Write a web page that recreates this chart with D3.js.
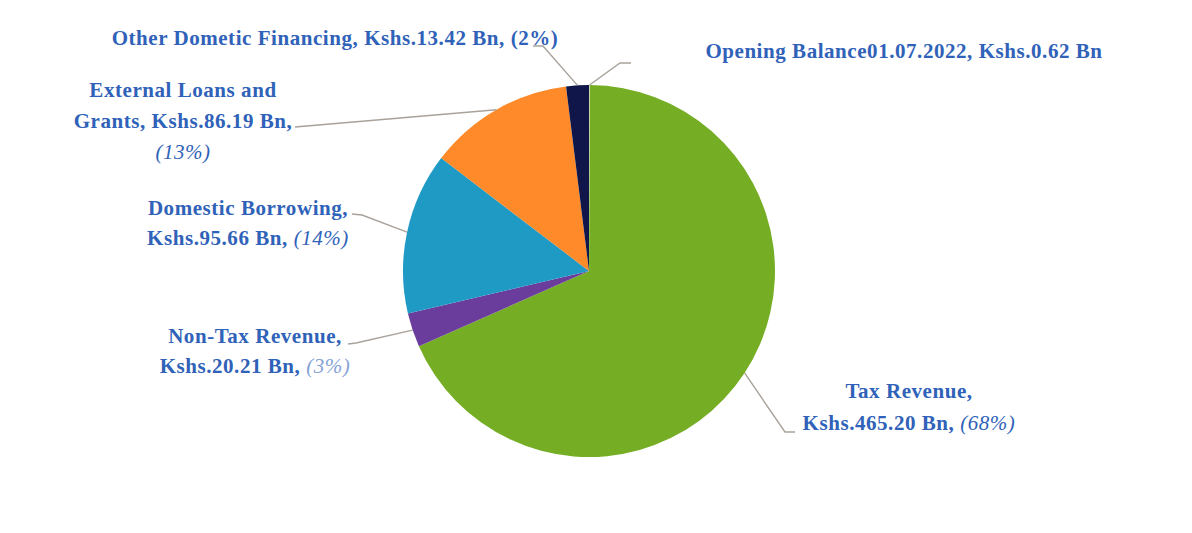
<!DOCTYPE html>
<html>
<head>
<meta charset="utf-8">
<script src="https://cdn.jsdelivr.net/npm/d3@7"></script>
<style>
    body { margin: 0; background: #ffffff; }
    .pie-label { font-family: "Liberation Serif", "Times New Roman", serif; font-size: 21px; font-weight: 700; letter-spacing: 0.55px; fill: #2f62b8; }
    .pie-label .pct { font-style: italic; font-weight: 400; }
    .pie-label .pct-light { fill: #86a3d6; }
    .pie-leader { fill: none; stroke: #a9a29b; stroke-width: 1.4; }
</style>
</head>
<body>
<svg id="chart"></svg>
<script>
// Sources of funds FY 2022/23 (Kshs. Bn), clockwise from 12 o'clock
var categories = ['Opening Balance01.07.2022', 'Tax Revenue', 'Non-Tax Revenue',
    'Domestic Borrowing', 'External Loans and Grants', 'Other Dometic Financing'];
var values = [0.62, 465.20, 20.21, 95.66, 86.19, 13.42];
var percents = [null, 68, 3, 14, 13, 2];
var colors = ['#c9d9a8', '#75ae24', '#6a3c9c', '#1f9ac4', '#fe8a2a', '#10164a'];

var width = 1192,
    height = 533,
    cx = 589,
    cy = 271,
    radius = 186;

// label layout: centre x, baseline of first line, line gap, and leader path after the arc point
var labelLayout = [
    { x: 904, y: 58, gap: 0, leader: [[620, 63], [631, 63]] },
    { x: 909, y: 398, gap: 32, leader: [[785, 432], [795, 432]] },
    { x: 255, y: 343, gap: 30, leader: [[356, 343], [348, 344]] },
    { x: 248, y: 215, gap: 30, leader: [[362, 215], [352, 214]] },
    { x: 183, y: 97, gap: 31, leader: [[295, 127]] },
    { x: 335, y: 45, gap: 0, leader: [[543, 46], [533, 46]] }
];

function kshs(v) { return 'Kshs.' + v.toFixed(2) + ' Bn'; }

// line breaks as in the source figure: each line is a list of [text, class]
function labelLines(i) {
    var name = categories[i], amt = kshs(values[i]), pct = '(' + percents[i] + '%)';
    switch (i) {
        case 0: return [[[name + ', ' + amt, '']]];
        case 1: return [[[name + ',', '']], [[amt + ', ', ''], [pct, 'pct']]];
        case 2: return [[[name + ',', '']], [[amt + ', ', ''], [pct, 'pct pct-light']]];
        case 3: return [[[name + ',', '']], [[amt + ', ', ''], [pct, 'pct']]];
        case 4: return [[['External Loans and', '']], [['Grants, ' + amt + ',', '']], [[pct, 'pct']]];
        default: return [[[name + ', ' + amt + ', ' + pct, '']]];
    }
}

var svg = d3.select('#chart')
    .attr('width', width)
    .attr('height', height);

var pie = d3.pie().sort(null).value(function (d) { return d; });
var arcs = pie(values);

var arc = d3.arc().innerRadius(0).outerRadius(radius);

var g = svg.append('g')
    .attr('transform', 'translate(' + cx + ',' + cy + ')');

g.selectAll('path.slice')
    .data(arcs)
    .enter()
    .append('path')
    .attr('class', 'slice')
    .attr('d', arc)
    .attr('fill', function (d, i) { return colors[i]; });

// leaders start on the rim at each slice's mid angle
var line = d3.line();
arcs.forEach(function (d, i) {
    var mid = (d.startAngle + d.endAngle) / 2;
    var start = [cx + radius * Math.sin(mid), cy - radius * Math.cos(mid)];
    svg.append('path')
        .attr('class', 'pie-leader')
        .attr('d', line([start].concat(labelLayout[i].leader)));
});

categories.forEach(function (c, i) {
    var lay = labelLayout[i];
    var text = svg.append('text')
        .attr('class', 'pie-label')
        .attr('text-anchor', 'middle');
    labelLines(i).forEach(function (parts, k) {
        var row = text.append('tspan')
            .attr('x', lay.x)
            .attr('y', lay.y + k * lay.gap);
        parts.forEach(function (p) {
            row.append('tspan').attr('class', p[1]).text(p[0]);
        });
    });
});
</script>
</body>
</html>
